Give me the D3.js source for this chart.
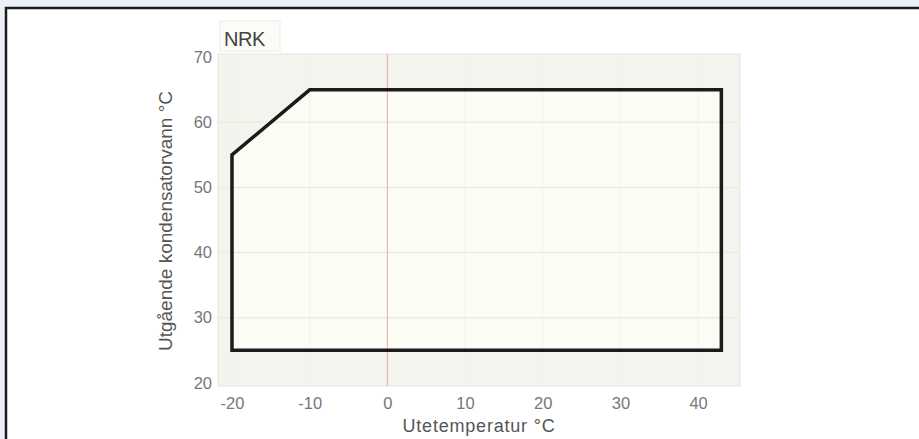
<!DOCTYPE html>
<html>
<head>
<meta charset="utf-8">
<script src="https://cdn.jsdelivr.net/npm/d3@7"></script>
<style>
body{margin:0;background:#ebeff8;}
svg{display:block;font-family:"Liberation Sans",Arial,sans-serif;}
</style>
</head>
<body>
<script>
// envelope corner points (Utetemperatur, Utgående kondensatorvann)
var envX = [-20, -20, -10, 43, 43]
var envY = [25, 55, 65, 65, 25]
var xTicks = [-20, -10, 0, 10, 20, 30, 40]
var yTicks = [20, 30, 40, 50, 60, 70]

var W = 919, H = 439
var svg = d3.select("body").append("svg")
	.attr("width", W)
	.attr("height", H)

// outer frame
svg.append("rect")
	.attr("x", 6).attr("y", 8)
	.attr("width", W).attr("height", H)
	.attr("fill", "white")
	.attr("stroke", "#1c1c1c")
	.attr("stroke-width", 2.5)

var x = d3.scaleLinear().domain([-21.8, 45.4]).range([218, 740])
var y = d3.scaleLinear().domain([19.5, 70.5]).range([386, 54])

// plot background
svg.append("rect")
	.attr("x", x.range()[0]).attr("y", y.range()[1])
	.attr("width", x.range()[1]-x.range()[0])
	.attr("height", y.range()[0]-y.range()[1])
	.attr("fill", "#f4f4ee")
	.attr("stroke", "#e6e6df")

// title box
svg.append("rect")
	.attr("x", 220).attr("y", 21)
	.attr("width", 60).attr("height", 30)
	.attr("fill", "#fbfbf8")
	.attr("stroke", "#ebebe5")
svg.append("text")
	.attr("x", 224).attr("y", 46)
	.attr("font-size", 20)
	.attr("letter-spacing", -0.5)
	.attr("fill", "#444")
	.text("NRK")

var line = d3.line()
	.x(function(d){return x(d[0])})
	.y(function(d){return y(d[1])})
var pts = envX.map(function(v,i){return [v, envY[i]]})

// envelope fill
svg.append("path")
	.attr("d", line(pts) + "Z")
	.attr("fill", "#fdfcf4")

// grid
svg.append("g").selectAll("line").data(yTicks.slice(1, -1)).enter()
	.append("line")
		.attr("x1", x.range()[0]).attr("x2", x.range()[1])
		.attr("y1", function(d){return y(d)}).attr("y2", function(d){return y(d)})
		.attr("stroke", "#ebebe2")
		.attr("stroke-width", 1.5)
svg.append("g").selectAll("line").data(xTicks.filter(function(d){return d != 0})).enter()
	.append("line")
		.attr("y1", y.range()[0]).attr("y2", y.range()[1])
		.attr("x1", function(d){return x(d)}).attr("x2", function(d){return x(d)})
		.attr("stroke", "#f2f2ea")
		.attr("stroke-width", 1)

// zero line
svg.append("line")
	.attr("x1", x(0)).attr("x2", x(0))
	.attr("y1", y.range()[0]).attr("y2", y.range()[1])
	.attr("stroke", "#eaa8a8")
	.attr("stroke-width", 1)

// envelope outline
svg.append("path")
	.attr("d", line(pts) + "Z")
	.attr("fill", "none")
	.attr("stroke", "#1b1b1b")
	.attr("stroke-width", 3.5)
	.attr("stroke-linejoin", "miter")

// axes
var fmt = function(d){return String(d)}
svg.append("g")
	.attr("transform", "translate(0," + y.range()[0] + ")")
	.call(d3.axisBottom(x).tickValues(xTicks).tickFormat(fmt).tickSize(0).tickPadding(11))
svg.append("g")
	.attr("transform", "translate(" + x.range()[0] + ",0)")
	.call(d3.axisLeft(y).tickValues(yTicks).tickFormat(fmt).tickSize(0).tickPadding(6))
svg.selectAll(".domain").remove()
svg.selectAll(".tick text")
	.attr("font-size", 16.5)
	.attr("font-family", "'Liberation Sans',Arial,sans-serif")
	.attr("fill", "#777")

svg.append("text")
	.attr("x", 479).attr("y", 432)
	.attr("text-anchor", "middle")
	.attr("font-size", 18)
	.attr("letter-spacing", 0.8)
	.attr("fill", "#555")
	.text("Utetemperatur °C")
svg.append("text")
	.attr("transform", "translate(172,221) rotate(-90)")
	.attr("text-anchor", "middle")
	.attr("font-size", 19)
	.attr("fill", "#555")
	.text("Utgående kondensatorvann °C")
</script>
</body>
</html>
